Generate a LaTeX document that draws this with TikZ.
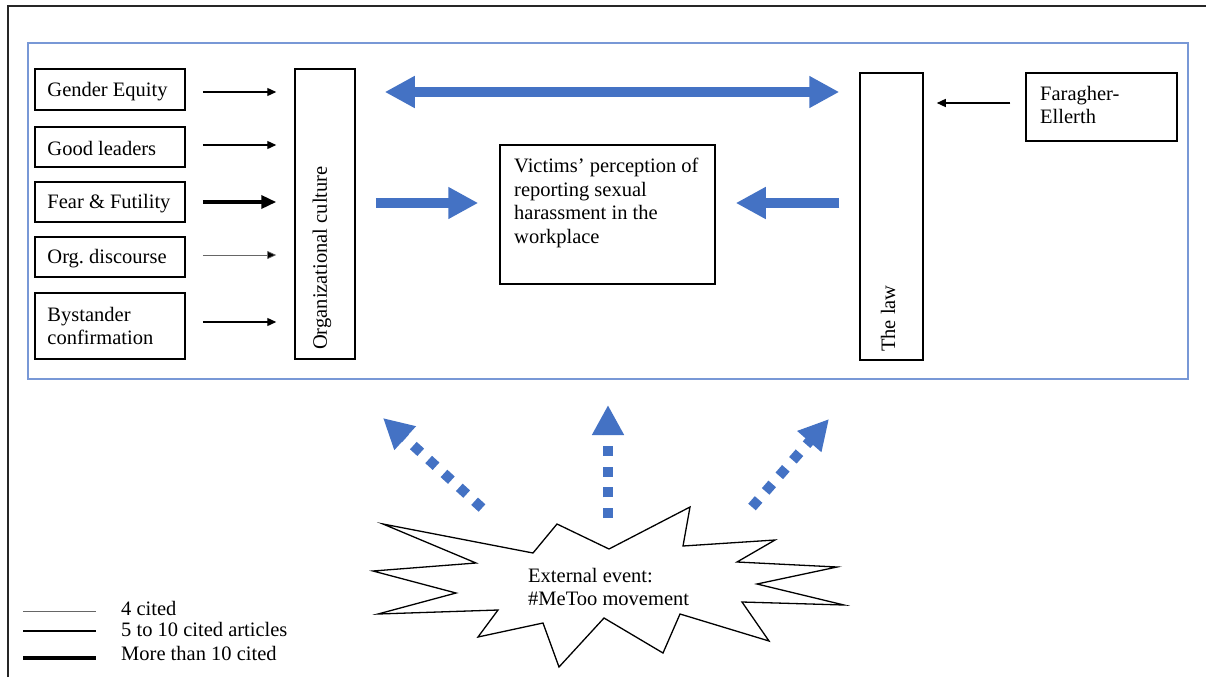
\documentclass[tikz,border=0pt]{standalone}
\usepackage{fontspec}
\setmainfont{Liberation Serif}
\frenchspacing
\usetikzlibrary{arrows.meta,calc}
\definecolor{arrblue}{RGB}{68,114,196}
\definecolor{frameblue}{RGB}{120,152,214}
\begin{document}
\begin{tikzpicture}[x=1pt,y=-1pt,
  font=\fontsize{20.5}{23.5}\selectfont\frenchspacing,
  box/.style={draw=black, line width=1.5pt, inner sep=0pt},
  lbox/.style={box, minimum width=150pt},
  ltxt/.style={anchor=west, align=left, inner sep=0pt},
  arrnorm/.style={line width=1.3pt, -{Triangle[length=9pt,width=8pt]}},
  arrthin/.style={line width=0.7pt, draw=black!60, -{Triangle[length=9pt,width=8pt,fill=black]}},
  arrthick/.style={line width=3.5pt, -{Triangle[length=15pt,width=13pt]}},
  bigarr/.style={draw=arrblue, line width=10pt, -{Triangle[length=30pt,width=30pt]}},
  bigdbl/.style={draw=arrblue, line width=10pt, {Triangle[length=30pt,width=30pt]}-{Triangle[length=30pt,width=30pt]}},
  dasharr/.style={draw=arrblue, line width=10pt, dash pattern=on 10pt off 10.7pt, -{Triangle[length=30pt,width=30pt]}},
  lbl/.style={inner sep=0pt, anchor=base west}
]
\useasboundingbox (0,0) rectangle (1206,677);
\fill[white] (0,0) rectangle (1206,677);

% frames
\draw[black!85, line width=1.5pt] (8,677) -- (8,6) -- (1206,6);
\draw[frameblue, line width=1.2pt] (28,43) rectangle (1188,379);

% left boxes
\node[lbox, minimum height=41pt] (ge) at (110,89.5) {};
\node[lbox, minimum height=40pt] (gl) at (110,147) {};
\node[lbox, minimum height=40pt] (ff) at (110,202) {};
\node[lbox, minimum height=40pt] (od) at (110,257) {};
\node[lbox, minimum height=66pt] (bc) at (110,326) {};
\node[ltxt] (get) at ([xshift=13pt,yshift=-2pt]ge.west) {Gender Equity};
\node[ltxt] (glt) at ([xshift=13pt,yshift=-1.5pt]gl.west) {Good leaders};
\node[ltxt] (fft) at ([xshift=13pt,yshift=-2pt]ff.west) {Fear \& Futility};
\node[ltxt] (odt) at ([xshift=13pt,yshift=-1.5pt]od.west) {Org. discourse};
\node[ltxt] (bct) at ([xshift=13pt]bc.west) {Bystander\\confirmation};

% organizational culture
\node[box, minimum width=60pt, minimum height=290pt] (oc) at (325,214) {};
\node[rotate=90, anchor=west, inner sep=0pt] (octxt) at (322,350) {Organizational culture};

% the law
\node[box, minimum width=63pt, minimum height=287pt] (law) at (891.5,216.5) {};
\node[rotate=90, anchor=west, inner sep=0pt] (lawtxt) at (888,352) {The law};

% Faragher-Ellerth
\node[box, minimum width=151pt, minimum height=68pt] (fe) at (1101.5,107) {};
\node[anchor=north west, inner sep=0pt, align=left] (fetxt) at (1040,86) {Faragher-\\Ellerth};

% victims
\node[box, minimum width=215pt, minimum height=139pt] (v) at (607.5,214.5) {};
\node[anchor=north west, inner sep=0pt, align=left] (vtxt) at (514,158) {Victims’ perception of\\reporting sexual\\harassment in the\\workplace};

% black arrows
\draw[arrnorm, shorten <=17pt, shorten >=18pt] ([yshift=-2.5pt]ge.east) -- ([yshift=-2.5pt]ge.east -| oc.west);
\draw[arrnorm, shorten <=17pt, shorten >=18pt] ([yshift=2pt]gl.east) -- ([yshift=2pt]gl.east -| oc.west);
\draw[arrthick, shorten <=17pt, shorten >=18pt] (ff.east) -- (ff.east -| oc.west);
\draw[arrthin, shorten <=17pt, shorten >=18pt] ([yshift=2pt]od.east) -- ([yshift=2pt]od.east -| oc.west);
\draw[arrnorm, shorten <=17pt, shorten >=18pt] ([yshift=4pt]bc.east) -- ([yshift=4pt]bc.east -| oc.west);
\draw[arrnorm, shorten <=15pt, shorten >=13pt] ([yshift=4pt]fe.west) -- ([yshift=4pt]fe.west -| law.east);

% blue arrows
\coordinate (topy) at (600,92);
\coordinate (midy) at (600,203);
\draw[bigdbl, shorten <=29pt, shorten >=20pt] (oc.east |- topy) -- (law.west |- topy);
\draw[bigarr, shorten <=20pt, shorten >=21pt] (oc.east |- midy) -- (v.west |- midy);
\draw[bigarr, shorten <=20pt, shorten >=20pt] (law.west |- midy) -- (v.east |- midy);

% starburst
\draw[black, line width=1.3pt, fill=white, line join=miter]
  (383,524) -- (533,553) -- (557,524) -- (609,549) -- (690,507) -- (683,546)
  -- (775,540) -- (737,562) -- (837,567) -- (757,584) -- (844,605) -- (742,602)
  -- (769,641) -- (680,614) -- (663,653) -- (604,618) -- (559,667) -- (543,623)
  -- (478,637) -- (498,610) -- (378,614) -- (456,593) -- (373,571) -- (476,563) -- cycle;
\node[anchor=north west, inner sep=0pt, align=left] (ev) at (528,568) {External event:\\\#MeToo movement};

% dashed arrows
\coordinate (s1) at (482,508);
\coordinate (t1) at (383,418);
\coordinate (s2) at (608,518);
\coordinate (t2) at (608,405);
\coordinate (s3) at (752,507);
\coordinate (t3) at (829,419);
\draw[dasharr] (s1) -- (t1);
\draw[dasharr] (s2) -- (t2);
\draw[dasharr] (s3) -- (t3);

% legend
\draw[black!60, line width=0.7pt] (23,611) -- (96,611);
\draw[black, line width=1.4pt] (23,631) -- (96,631);
\draw[black, line width=4.5pt] (23,658) -- (96,658);
\node[lbl] (lg1) at (121,615) {4 cited};
\node[lbl] (lg2) at (121,636) {5 to 10 cited articles};
\node[lbl] (lg3) at (121,660) {More than 10 cited};
\end{tikzpicture}
\end{document}
